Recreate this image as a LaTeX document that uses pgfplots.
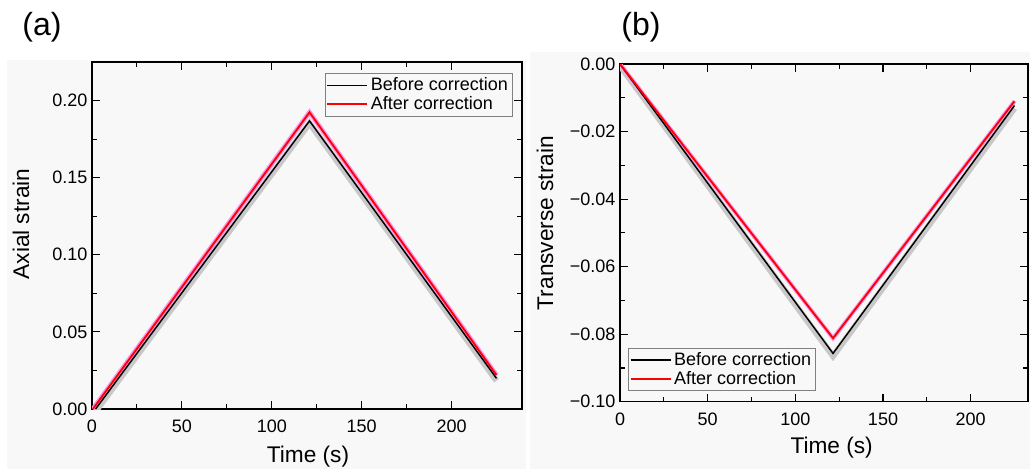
\documentclass[border=0pt]{standalone}
\usepackage{pgfplots}
\pgfplotsset{compat=1.18}
\usepackage{fontspec}
\setmainfont{Liberation Sans}
\definecolor{bg}{RGB}{248,248,248}
\definecolor{band}{RGB}{200,200,200}
\definecolor{pband}{RGB}{245,150,235}
\pgfplotsset{
  common/.style={
    scale only axis,
    axis background/.style={fill=bg},
    axis line style={black,line width=1.1pt},
    tick style={black,line width=0.8pt},
    tick align=inside,
    major tick length=6pt,
    minor tick length=3.5pt,
    minor tick num=1,
    /pgf/number format/assume math mode=true,
    tick label style={font=\fontsize{13.5pt}{15pt}\selectfont},
    xticklabel style={yshift=-5pt},
    xtick={0,50,100,150,200},
    legend cell align=left,
    legend style={draw=gray,fill=bg,font=\fontsize{13.5pt}{17pt}\selectfont,inner sep=1pt,row sep=-1pt},
    legend image code/.code={\draw[#1] (0pt,0pt) -- (30pt,0pt);},
  }
}
\begin{document}
\begin{tikzpicture}
\useasboundingbox (0,0) rectangle (772.5pt,-351.75pt);
\fill[bg] (5.25pt,-45pt) rectangle (394.5pt,-351.75pt);
\fill[bg] (397.5pt,-39pt) rectangle (772.5pt,-351.75pt);
\node[font=\fontsize{24pt}{28pt}\selectfont] at (31.5pt,-20.25pt) {(a)};
\node[font=\fontsize{24pt}{28pt}\selectfont] at (480.75pt,-20.25pt) {(b)};
% panel a
\begin{axis}[common,
  at={(69pt,-306.75pt)}, anchor=south west,
  width=322.5pt, height=260.25pt,
  xmin=0, xmax=239.2, ymin=0, ymax=0.225,
  ytick={0,0.05,0.10,0.15,0.20},
  yticklabels={0.00,0.05,0.10,0.15,0.20},
  legend style={at={(0.977,0.967)},anchor=north east},
]
\addplot[band,line width=4.5pt,forget plot] coordinates {(2,-0.0015) (121,0.1853) (225,0.0184)};
\addplot[pband,line width=3.5pt,forget plot] coordinates {(0.5,0) (121,0.1924) (225,0.022)};
\addplot[black,line width=1.1pt] coordinates {(2,0) (121,0.1868) (225,0.0199)};
\addlegendentry{Before correction}
\addplot[red,line width=1.4pt] coordinates {(0.5,0) (121,0.1924) (225,0.022)};
\addlegendentry{After correction}
\end{axis}
\node[font=\fontsize{17pt}{20pt}\selectfont] at (231pt,-342.75pt) {Time (s)};
\node[font=\fontsize{17pt}{20pt}\selectfont,rotate=90] at (15.75pt,-168pt) {Axial strain};
% panel b
\begin{axis}[common,
  at={(465pt,-301.3pt)}, anchor=south west,
  width=306pt, height=253.3pt,
  xmin=0, xmax=232.7, ymin=-0.1, ymax=0,
  ytick={-0.10,-0.08,-0.06,-0.04,-0.02,0},
  yticklabels={−0.10,−0.08,−0.06,−0.04,−0.02,0.00},
  legend style={at={(0.0196,0.032)},anchor=south west},
]
\addplot[band,line width=4.5pt,forget plot] coordinates {(0,-0.0005) (121.5,-0.0865) (225,-0.0131)};
\addplot[pband,line width=3pt,forget plot] coordinates {(0,0) (121.5,-0.0812) (225,-0.0110)};
\addplot[black,line width=1.1pt] coordinates {(0,0) (121.5,-0.0857) (225,-0.0123)};
\addlegendentry{Before correction}
\addplot[red,line width=1.4pt] coordinates {(0,0) (121.5,-0.0812) (225,-0.0110)};
\addlegendentry{After correction}
\end{axis}
\node[font=\fontsize{17pt}{20pt}\selectfont] at (623.75pt,-336pt) {Time (s)};
\node[font=\fontsize{17pt}{20pt}\selectfont,rotate=90] at (408.75pt,-167.25pt) {Transverse strain};
\end{tikzpicture}
\end{document}
